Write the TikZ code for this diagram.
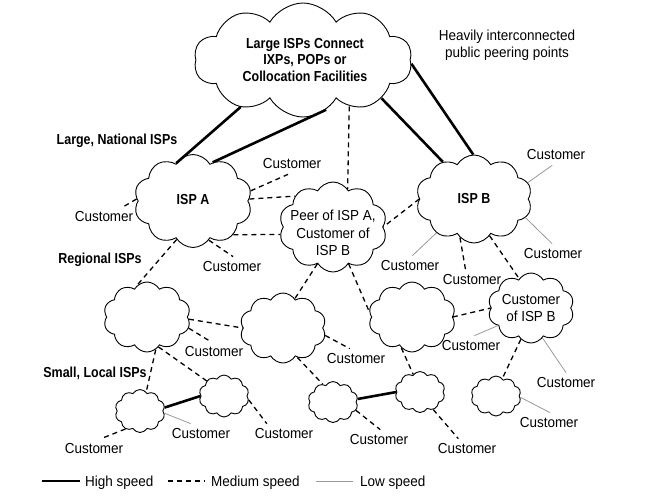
\documentclass[tikz,border=0pt]{standalone}
\usepackage{fontspec}
\setmainfont{Liberation Sans}
\newfontfamily\regf[FakeStretch=0.93]{Liberation Sans}
\newfontfamily\condf[FakeStretch=0.86]{Liberation Sans}
\usetikzlibrary{shapes.symbols}
\begin{document}
\begin{tikzpicture}[x=1pt,y=-1pt,
  cl/.style={cloud, draw, cloud puffs=10, cloud puff arc=120, cloud ignores aspect, inner sep=0pt, line width=0.9pt},
  lab/.style={inner sep=5pt, font=\fontsize{14.5}{17.5}\selectfont\regf, align=center},
  blab/.style={inner sep=2pt, font=\fontsize{14.5}{16.5}\selectfont\condf\bfseries, align=center},
  hi/.style={line width=2.6pt},
  med/.style={line width=1.3pt, dash pattern=on 5pt off 4pt},
  lo/.style={line width=0.8pt, gray!80},
]
\useasboundingbox (0,0) rectangle (653,501);

% clouds
\node[cl, minimum width=218, minimum height=114] (T) at (303,60) {};
\node[blab] (Ttxt) at (305,60) {Large ISPs Connect\\IXPs, POPs or\\Collocation Facilities};
\node[cl, minimum width=118, minimum height=93] (A) at (193,201) {};
\node[blab] (Atxt) at (193,200) {ISP A};
\node[cl, minimum width=108, minimum height=90] (P) at (333,227) {};
\node[lab] (Ptxt) at (333,233) {Peer of ISP A,\\Customer of\\ISP B};
\node[cl, minimum width=116, minimum height=88] (B) at (474,199) {};
\node[blab] (Btxt) at (474,199) {ISP B};
\node[cl, minimum width=87, minimum height=70] (R1) at (147,317) {};
\node[cl, minimum width=86, minimum height=70] (R2) at (283,328) {};
\node[cl, minimum width=87, minimum height=70] (R3) at (412,317) {};
\node[cl, minimum width=86, minimum height=70] (C) at (531,308) {};
\node[lab] (Ctxt) at (531,308) {Customer\\of ISP B};
\node[cl, minimum width=50, minimum height=43] (S1) at (140,411) {};
\node[cl, minimum width=50, minimum height=42] (S2) at (224,396) {};
\node[cl, minimum width=50, minimum height=41] (S3) at (333,402) {};
\node[cl, minimum width=50, minimum height=41] (S4) at (420,392) {};
\node[cl, minimum width=50, minimum height=40] (S5) at (496,396) {};

% labels
\node[blab] (lnat) at (117,141) {Large, National ISPs};
\node[blab] (lreg) at (100,260) {Regional ISPs};
\node[blab] (lsml) at (95,373) {Small, Local ISPs};
\node[lab] (heavy) at (507,45) {Heavily interconnected\\public peering points};

\node[lab] (cA1) at (292,164) {Customer};
\node[lab] (cAL) at (104,217) {Customer};
\node[lab] (cAB) at (232,267) {Customer};
\node[lab] (cB1) at (556,155) {Customer};
\node[lab] (cB2) at (553,254) {Customer};
\node[lab] (cB3) at (410,266) {Customer};
\node[lab] (cB4) at (472,280) {Customer};
\node[lab] (cR1) at (214,352) {Customer};
\node[lab] (cR2) at (356,359) {Customer};
\node[lab] (cC1) at (471,346) {Customer};
\node[lab] (cC2) at (566,383) {Customer};
\node[lab] (cS1a) at (201,434) {Customer};
\node[lab] (cS1b) at (94,449) {Customer};
\node[lab] (cS2) at (284,434) {Customer};
\node[lab] (cS3) at (379,440) {Customer};
\node[lab] (cS4) at (467,449) {Customer};
\node[lab] (cS5) at (549,423) {Customer};

% high speed
\draw[hi] (T.217) -- (A.114);
\draw[hi] (T.295) -- (A.63);
\draw[hi] (T.334) -- (B.130);
\draw[hi] (T.358) -- (B.91);
\draw[hi] (S1.8) -- (S2.180);
\draw[hi] (S3.7) -- (S4.180);

% medium speed
\draw[med] (T.315) -- (P.69);
\draw[med] (A.2) -- (P.141);
\draw[med] (A.10) -- (cA1.249);
\draw[med] (A.320) -- (P.188);
\draw[med] (A.178) -- (cAL.28);
\draw[med] (A.292) -- (cAB.84);
\draw[med] (A.247) -- (R1.109);
\draw[med] (B.180) -- (P.0);
\draw[med] (B.250) -- (cB4.122);
\draw[med] (B.293) -- (C.112);
\draw[med] (P.247) -- (R2.68);
\draw[med] (P.293) -- (R3.173);
\draw[med] (R3.0) -- (C.180);
\draw[med] (R1.357) -- (R2.180);
\draw[med] (R1.345) -- (cR1.107);
\draw[med] (R1.291) -- (S2.139);
\draw[med] (R1.285) -- (S1.72);
\draw[med] (S1.231) -- (cS1b.56);
\draw[med] (S2.351) -- (cS2.149);
\draw[med] (R2.350) -- (cR2.121);
\draw[med] (R2.296) -- (S3.120);
\draw[med] (R3.251) -- (S4.111);
\draw[med] (S3.340) -- (cS3.83);
\draw[med] (S4.307) -- (cS4.130);
\draw[med] (C.252) -- (S5.70);

% low speed
\draw[lo] (S1.355) -- (cS1a.135);
\draw[lo] (C.208) -- (cC1.72);
\draw[lo] (C.291) -- (cC2.90);
\draw[lo] (S5.357) -- (cS5.84);
\draw[lo] (B.17.5) -- (cB1.250);
\draw[lo] (B.340) -- (cB2.95);
\draw[lo] (B.222) -- (cB3.77);

% legend
\coordinate (h1) at (42,481); \coordinate (h2) at (80,481);
\coordinate (m1) at (168,481); \coordinate (m2) at (205,481);
\coordinate (g1) at (316,481); \coordinate (g2) at (353,481);
\draw[hi] (h1) -- (h2);
\draw[med] (m1) -- (m2);
\draw[lo] (g1) -- (g2);
\node[lab, anchor=base west, inner sep=0pt] (lh) at (85,486) {High speed};
\node[lab, anchor=base west, inner sep=0pt] (lm) at (211,486) {Medium speed};
\node[lab, anchor=base west, inner sep=0pt] (ll) at (360,486) {Low speed};
\end{tikzpicture}
\end{document}
